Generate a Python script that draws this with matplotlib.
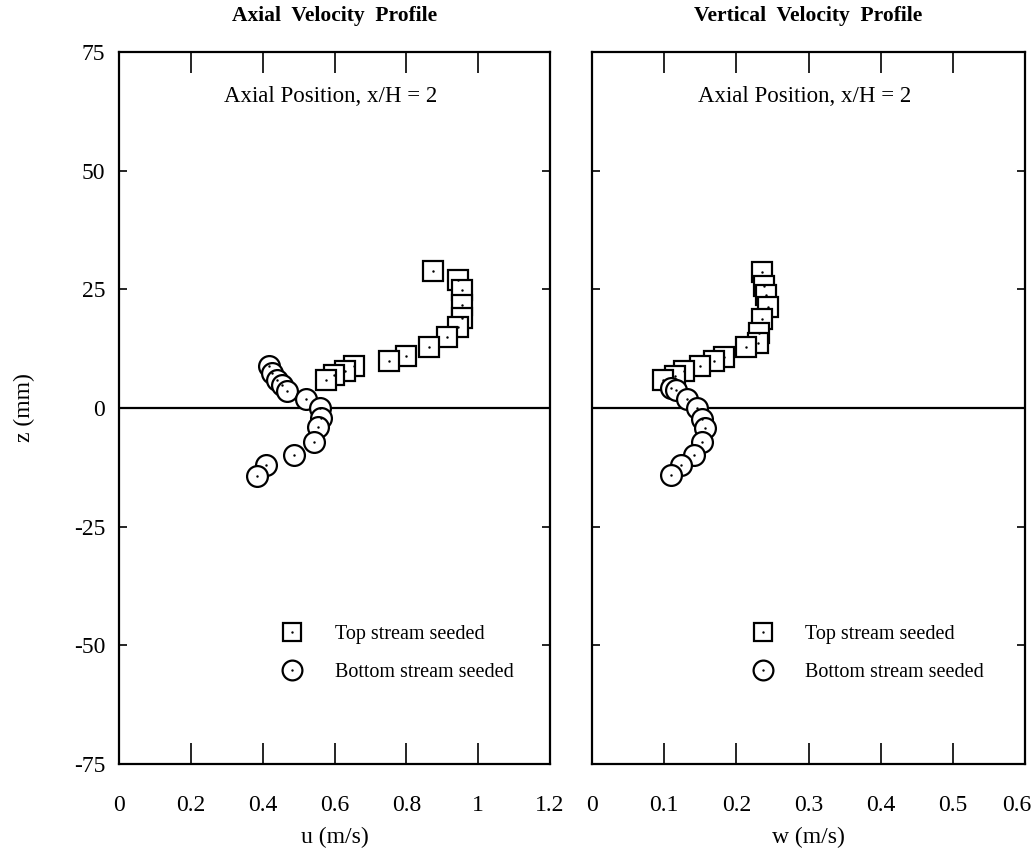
import matplotlib
matplotlib.use("Agg")
import matplotlib.pyplot as plt
import matplotlib.transforms as mtransforms
from matplotlib.legend_handler import HandlerTuple

plt.rcParams['font.family'] = ['Liberation Serif', 'DejaVu Serif']

# ---- data ----
# Axial velocity, top stream seeded (squares)
u_top = [0.874, 0.943, 0.956, 0.955, 0.955, 0.945, 0.913, 0.862, 0.800, 0.751, 0.654, 0.630, 0.599, 0.576]
z_u_top = [28.9, 26.9, 24.8, 21.7, 18.9, 17.1, 15.0, 12.9, 10.9, 9.9, 8.9, 7.9, 6.9, 5.9]
# Axial velocity, bottom stream seeded (circles)
u_bot = [0.418, 0.425, 0.439, 0.453, 0.469, 0.522, 0.560, 0.562, 0.555, 0.544, 0.487, 0.408, 0.385]
z_u_bot = [8.8, 7.3, 5.9, 4.8, 3.6, 1.9, -0.1, -2.2, -3.9, -7.1, -10.0, -12.0, -14.3]

# Vertical velocity, top stream seeded (squares)
w_top = [0.236, 0.238, 0.241, 0.244, 0.235, 0.232, 0.230, 0.214, 0.183, 0.169, 0.149, 0.127, 0.115, 0.098]
z_w_top = [28.7, 25.7, 23.8, 21.3, 18.7, 15.9, 13.7, 12.8, 10.8, 9.8, 8.8, 7.9, 6.7, 5.9]
# Vertical velocity, bottom stream seeded (circles)
w_bot = [0.110, 0.116, 0.132, 0.146, 0.153, 0.156, 0.153, 0.142, 0.123, 0.109]
z_w_bot = [4.3, 3.8, 1.8, -0.1, -2.3, -4.3, -7.1, -10.0, -12.0, -14.1]

u_ticks = [0, 0.2, 0.4, 0.6, 0.8, 1.0, 1.2]
u_ticklabels = ['0', '0.2', '0.4', '0.6', '0.8', '1', '1.2']
w_ticks = [0, 0.1, 0.2, 0.3, 0.4, 0.5, 0.6]
w_ticklabels = ['0', '0.1', '0.2', '0.3', '0.4', '0.5', '0.6']
z_ticks = [75, 50, 25, 0, -25, -50, -75]
z_ticklabels = ['75', '50', '25', '0', '-25', '-50', '-75']

titles = ['Axial  Velocity  Profile', 'Vertical  Velocity  Profile']
annot = 'Axial Position, x/H = 2'
xlabels = ['u (m/s)', 'w (m/s)']
legend_labels = ['Top stream seeded', 'Bottom stream seeded']

fig = plt.figure(figsize=(10.36, 8.59), dpi=100)
W, H = 1036, 859
ax1 = fig.add_axes([119 / W, (H - 764) / H, 431 / W, 712 / H])
ax2 = fig.add_axes([592 / W, (H - 764) / H, 433 / W, 712 / H])

ms = 14
mew = 1.6

def draw(ax, xt, zt, xb, zb, xmax, ticks, ticklabels, title, xlabel, show_y, leg_x):
    sq, = ax.plot(xt, zt, ls='none', marker='s', ms=ms, mfc='white', mec='black', mew=mew, zorder=3)
    sqd, = ax.plot(xt, zt, ls='none', marker='.', ms=1.5, color='black', zorder=4)
    ci, = ax.plot(xb, zb, ls='none', marker='o', ms=ms + 1, mfc='white', mec='black', mew=mew, zorder=5)
    cid, = ax.plot(xb, zb, ls='none', marker='.', ms=1.5, color='black', zorder=6)
    ax.axhline(0, color='black', lw=1.6, zorder=2)
    ax.set_xlim(0, xmax)
    ax.set_ylim(-75, 75)
    ax.set_xticks(ticks)
    ax.set_xticklabels(ticklabels)
    ax.set_yticks(z_ticks)
    if show_y:
        ax.set_yticklabels(z_ticklabels)
        ax.set_ylabel('z (mm)', fontsize=17, labelpad=28)
    else:
        ax.set_yticklabels([])
    ax.tick_params(axis='x', direction='in', length=15, width=1.2, top=True, labelsize=17, pad=22)
    ax.tick_params(axis='y', direction='in', length=6, width=1.2, right=True, labelsize=17, pad=10)
    for s in ax.spines.values():
        s.set_linewidth(1.6)
    ax.set_xlabel(xlabel, fontsize=17, labelpad=8)
    ax.set_title(title, fontsize=15.5, fontweight='bold', pad=22)
    ax.text(0.49, 0.937, annot, transform=ax.transAxes, ha='center', va='center', fontsize=16.5)
    leg = ax.legend([(sq, sqd), (ci, cid)], legend_labels,
                    handler_map={tuple: HandlerTuple(ndivide=1)},
                    loc='center left', bbox_to_anchor=(leg_x, 0.155),
                    frameon=False, fontsize=14.5, handlelength=1.0,
                    handletextpad=1.6, labelspacing=0.95, borderaxespad=0, markerscale=0.95)
    return ax

draw(ax1, u_top, z_u_top, u_bot, z_u_bot, 1.2, u_ticks, u_ticklabels, titles[0], xlabels[0], True, 0.36)
draw(ax2, w_top, z_w_top, w_bot, z_w_bot, 0.6, w_ticks, w_ticklabels, titles[1], xlabels[1], False, 0.352)

# nudge the last tick label of the right panel so it stays inside the figure
last = ax2.get_xticklabels()[-1]
last.set_transform(last.get_transform() + mtransforms.ScaledTranslation(-8 / 100, 0, fig.dpi_scale_trans))

fig.savefig('out.png', dpi=100)
